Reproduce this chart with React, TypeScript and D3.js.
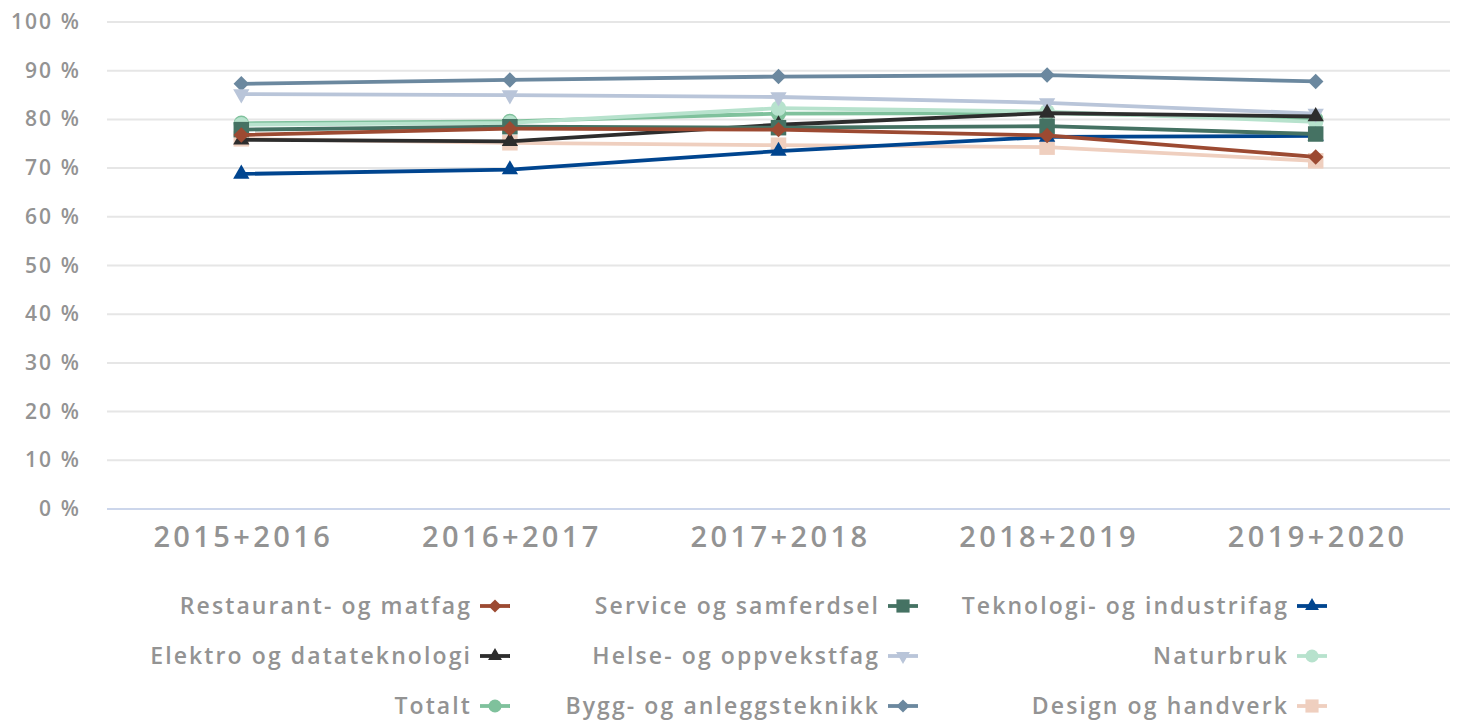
import { useRef, useEffect } from "react";
import * as d3 from "d3";

const categories = ["2015+2016", "2016+2017", "2017+2018", "2018+2019", "2019+2020"];
const yTicks = [0, 10, 20, 30, 40, 50, 60, 70, 80, 90, 100];

const seriesNames = [
  "Restaurant- og matfag",
  "Service og samferdsel",
  "Teknologi- og industrifag",
  "Elektro og datateknologi",
  "Helse- og oppvekstfag",
  "Naturbruk",
  "Totalt",
  "Bygg- og anleggsteknikk",
  "Design og handverk",
];

const restaurant = [76.8, 78.1, 77.9, 76.7, 72.3];
const service = [77.9, 78.5, 78.3, 78.6, 77.0];
const teknologi = [68.8, 69.7, 73.5, 76.4, 76.6];
const elektro = [75.8, 75.5, 78.9, 81.3, 80.6];
const helse = [85.2, 85.0, 84.6, 83.4, 81.2];
const naturbruk = [78.9, 79.3, 82.3, 81.6, 79.5];
const totalt = [79.2, 79.6, 81.2, 81.3, 80.1];
const bygg = [87.3, 88.1, 88.8, 89.1, 87.8];
const design = [76.0, 75.2, 74.7, 74.3, 71.5];

const seriesValues = [restaurant, service, teknologi, elektro, helse, naturbruk, totalt, bygg, design];
const seriesColors = ["#9c4a32", "#457263", "#00458f", "#2d2d2d", "#b9c5d9", "#b7e2cd", "#7fc19c", "#6b889f", "#efcfbf"];
const seriesMarkers = ["diamond", "square", "triangle", "triangle", "triangle-down", "circle", "circle", "diamond", "square"];

const W = 1458;
const H = 722;
const FONT = "'Open Sans', sans-serif";
const TEXT = "#939393";

function markerPath(kind: string, scale: number) {
  if (kind === "diamond") return d3.symbol(d3.symbolSquare, 120 * scale * scale)();
  if (kind === "square") return d3.symbol(d3.symbolSquare, 240 * scale * scale)();
  if (kind === "circle") return d3.symbol(d3.symbolCircle, 185 * scale * scale)();
  return d3.symbol(d3.symbolTriangle, 115 * scale * scale)();
}

function markerRotate(kind: string) {
  if (kind === "diamond") return 45;
  if (kind === "triangle-down") return 180;
  return 0;
}

export default function App() {
  const svgRef = useRef(null);

  useEffect(() => {
    let svg = d3.select(svgRef.current);
    svg.selectAll("*").remove();

    let left = 107;
    let right = 1450;
    let top = 22;
    let bottom = 509;

    let x = d3.scalePoint<string>().domain(categories).range([left, right]).padding(0.5);
    let y = d3.scaleLinear().domain([0, 100]).range([bottom, top]);

    // gridlines
    svg
      .append("g")
      .selectAll("line")
      .data(yTicks.filter((t) => t > 0))
      .join("line")
      .attr("x1", left)
      .attr("x2", right)
      .attr("y1", (d) => y(d))
      .attr("y2", (d) => y(d))
      .attr("stroke", "#e6e6e6")
      .attr("stroke-width", 2);

    svg
      .append("line")
      .attr("x1", left)
      .attr("x2", right)
      .attr("y1", y(0))
      .attr("y2", y(0))
      .attr("stroke", "#ccd6eb")
      .attr("stroke-width", 2);

    // y labels
    svg
      .append("g")
      .selectAll("text")
      .data(yTicks)
      .join("text")
      .attr("x", 81)
      .attr("y", (d) => y(d) + 7)
      .attr("text-anchor", "end")
      .attr("font-family", FONT)
      .attr("font-size", 21)
      .attr("font-weight", 600)
      .attr("letter-spacing", 2.1)
      .attr("fill", TEXT)
      .text((d) => d + " %");

    // x labels
    svg
      .append("g")
      .selectAll("text")
      .data(categories)
      .join("text")
      .attr("x", (d) => x(d)! + 2)
      .attr("y", 547)
      .attr("text-anchor", "middle")
      .attr("font-family", FONT)
      .attr("font-size", 29)
      .attr("font-weight", 600)
      .attr("letter-spacing", 3.4)
      .attr("fill", TEXT)
      .text((d) => d);

    let line = d3
      .line<number>()
      .x((d, i) => x(categories[i])!)
      .y((d) => y(d));

    // draw in reverse so the first series ends up on top
    let order = d3.range(seriesValues.length).reverse();
    order.forEach((s) => {
      let g = svg.append("g");
      g.append("path")
        .attr("d", line(seriesValues[s]))
        .attr("fill", "none")
        .attr("stroke", seriesColors[s])
        .attr("stroke-width", 3.8)
        .attr("stroke-linejoin", "round");
      g.selectAll("path.m")
        .data(seriesValues[s])
        .join("path")
        .attr("class", "m")
        .attr("d", markerPath(seriesMarkers[s], 1))
        .attr("fill", seriesColors[s])
        .attr("transform", (d, i) => `translate(${x(categories[i])},${y(d)}) rotate(${markerRotate(seriesMarkers[s])})`);
    });

    // legend, 3 columns
    let colEnd = [495, 903, 1312];
    let rowY = [606, 656, 706];
    let legend = svg.append("g");
    seriesNames.forEach((name, i) => {
      let cx = colEnd[i % 3];
      let cy = rowY[Math.floor(i / 3)];
      let item = legend.append("g").attr("transform", `translate(${cx},${cy})`);
      item
        .append("line")
        .attr("x1", -15)
        .attr("x2", 15)
        .attr("stroke", seriesColors[i])
        .attr("stroke-width", 3.8);
      item
        .append("path")
        .attr("d", markerPath(seriesMarkers[i], 0.85))
        .attr("fill", seriesColors[i])
        .attr("transform", `rotate(${markerRotate(seriesMarkers[i])})`);
      item
        .append("text")
        .attr("x", -23)
        .attr("y", 8)
        .attr("text-anchor", "end")
        .attr("font-family", FONT)
        .attr("font-size", 23)
        .attr("font-weight", 600)
        .attr("letter-spacing", 2.1)
        .attr("fill", TEXT)
        .text(name);
    });
  }, []);

  return (
    <svg
      ref={svgRef}
      width={W}
      height={H}
      style={{ position: "absolute", left: 0, top: 0, background: "#fff" }}
    ></svg>
  );
}
